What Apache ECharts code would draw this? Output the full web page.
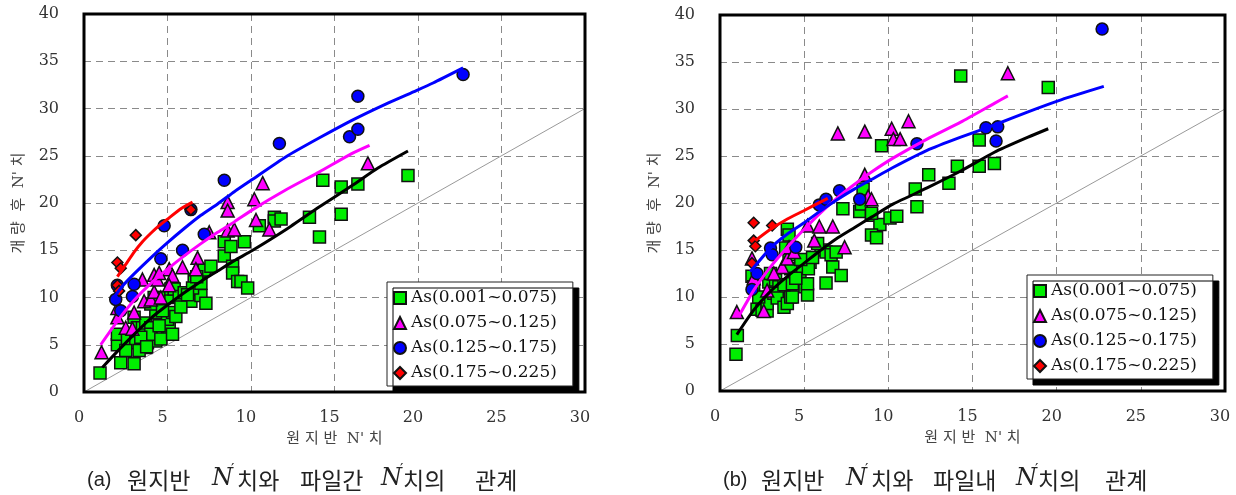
<!DOCTYPE html>
<html><head><meta charset="utf-8">
<script src="https://cdn.jsdelivr.net/npm/echarts@6/dist/echarts.min.js"></script>
<style>html,body{margin:0;padding:0;background:#fff}#c{width:1236px;height:495px}</style>
</head><body><div id="c"></div>
<script>
// ---------- categories / labels ----------
const seriesNames = ['As(0.001~0.075)', 'As(0.075~0.125)', 'As(0.125~0.175)', 'As(0.175~0.225)'];
const xName = '원 지 반  N\' 치';
const yName = '개 량  후  N\' 치';

// ---------- panel (a) data: [원지반 N', 개량 후 N'] ----------
const aSq = [[0.96,2.0],[2.2,3.1],[3.0,3.0],[2.0,5.0],[2.0,6.1],[2.6,5.5],[3.1,5.2],[3.7,4.7],[3.8,5.2],[4.3,5.4],
  [3.0,7.9],[3.2,6.8],[3.5,6.8],[3.7,7.3],[4.0,6.8],[4.0,6.1],[4.3,8.4],[4.0,9.3],[4.2,10.0],[4.8,10.0],
  [5.0,6.1],[5.1,6.6],[5.1,7.3],[5.0,7.7],[5.3,8.4],[5.2,10.0],[5.2,10.9],[5.4,10.9],[5.7,10.1],[6.4,9.6],
  [7.0,10.2],[7.3,9.4],[6.6,11.9],[6.9,12.4],[7.2,12.9],[7.6,13.3],[8.4,14.4],[8.4,15.9],[8.8,15.4],[9.6,15.9],
  [8.9,13.3],[8.9,12.6],[9.2,11.7],[9.4,11.7],[9.8,11.0],[10.5,17.6],[11.4,18.5],[11.4,18.1],[11.8,18.3],[13.5,18.5],
  [14.1,16.4],[15.4,18.8],[14.3,22.4],[15.4,21.7],[16.4,22.0],[19.4,22.9],[5.5,8.0],[4.5,7.0],[3.4,5.8],[6.0,10.5],
  [6.5,11.0],[5.8,9.0],[4.6,5.6],[5.3,6.1],[2.5,4.4],[3.3,4.4],[4.7,8.6],[6.2,10.3],[7.0,11.5],[3.75,4.8],[6.75,12.2]];
const aTri = [[1.05,4.2],[2.5,6.8],[2.9,6.7],[2.0,7.9],[2.0,8.9],[3.5,11.9],[3.6,9.6],[4.0,9.8],[4.2,10.6],[4.6,10.0],
  [4.2,12.4],[4.4,11.9],[5.1,13.0],[5.3,12.3],[5.1,11.3],[5.9,13.2],[6.8,14.2],[6.7,13.0],[7.5,16.9],[8.6,17.1],
  [9.0,17.2],[8.6,20.1],[8.6,19.2],[10.2,20.4],[10.3,18.2],[10.7,22.1],[11.1,17.2],[17.0,24.2],[3.0,8.4],[4.5,12.6]];
const aCir = [[1.9,9.8],[2.2,8.6],[2.9,10.1],[3.0,11.4],[4.6,14.1],[4.8,17.6],[5.9,15.0],[7.2,16.7],[6.4,19.3],[8.4,22.4],
  [11.7,26.3],[15.9,27.0],[16.4,27.8],[16.4,31.3],[22.7,33.6],[2.0,11.3]];
const aDia = [[2.0,13.7],[2.2,13.1],[2.0,11.3],[2.1,10.7],[3.1,16.6],[6.4,19.3]];
const aLineRed = [[2.0,12.2],[2.5,13.5],[3.0,14.8],[3.5,15.9],[4.0,16.8],[4.5,17.6],[5.0,18.3],[5.8,19.4],[6.5,20.1]];
const aLineBlue = [[1.7,9.8],[2.3,11.2],[3.0,12.5],[4.0,14.2],[5.0,15.8],[6.0,17.3],[7.0,18.7],[8.0,19.9],[9.0,21.2],
  [10.0,22.4],[12.1,24.9],[14.1,26.9],[16.1,28.8],[18.1,30.5],[19.9,31.9],[20.9,32.7],[22.7,34.3]];
const aLineMag = [[1.0,5.0],[2.0,7.5],[3.0,9.7],[4.0,11.5],[5.0,13.0],[6.0,14.4],[7.0,15.7],[8.0,16.9],[9.0,18.0],
  [10.1,19.3],[12.1,21.4],[14.1,23.3],[16.0,25.2],[17.1,26.1]];
const aLineBlk = [[1.1,2.6],[2.0,4.3],[3.0,6.1],[4.0,7.8],[5.0,9.2],[6.0,10.5],[7.0,11.7],[8.0,12.8],[9.0,13.9],
  [10.1,15.0],[12.1,17.2],[14.1,19.6],[16.1,21.9],[17.6,23.7],[19.4,25.5]];

// ---------- panel (b) data ----------
const bSq = [[0.95,3.9],[1.03,5.9],[2.2,8.7],[2.5,8.6],[2.8,8.5],[2.8,9.3],[1.9,12.2],[2.0,11.1],[2.9,11.6],[3.3,11.8],
  [3.5,11.1],[3.2,10.4],[3.4,9.9],[3.8,8.9],[4.0,9.3],[4.2,10.0],[4.3,10.0],[3.8,11.3],[4.3,11.4],[4.75,12.7],
  [5.05,11.1],[5.2,10.2],[5.2,11.4],[5.35,13.7],[5.25,13.0],[4.2,13.0],[4.1,14.5],[3.9,15.2],[4.0,17.2],[4.1,16.6],
  [6.0,15.0],[6.3,14.8],[6.6,14.5],[6.9,14.8],[6.7,13.2],[7.2,12.3],[6.3,11.5],[7.3,19.4],[8.3,19.1],[8.4,19.9],
  [8.5,21.5],[9.0,18.7],[9.5,17.7],[9.0,16.6],[9.3,16.3],[10.1,18.4],[10.5,18.6],[9.6,26.1],[11.7,19.6],[11.6,21.5],
  [12.4,23.0],[13.6,22.1],[14.1,23.9],[15.4,23.9],[16.3,24.2],[15.4,26.7],[14.3,33.5],[19.5,32.3],[9.0,18.9],[5.8,15.7],
  [4.8,14.0],[3.0,12.5],[2.3,10.0],[5.5,14.2],[4.5,12.0]];
const bTri = [[1.0,8.4],[1.9,14.1],[2.6,8.5],[2.8,10.7],[3.7,13.2],[4.0,14.1],[4.1,15.3],[5.2,17.6],[5.9,17.5],[5.6,16.0],
  [6.7,17.5],[7.4,15.3],[8.6,23.0],[8.8,20.7],[9.0,20.4],[7.0,27.4],[8.6,27.6],[10.2,27.9],[10.3,26.8],[10.7,26.8],
  [11.2,28.7],[17.1,33.8],[2.0,12.0],[3.2,12.5],[4.4,14.8]];
const bCir = [[1.9,10.8],[2.2,12.5],[3.0,15.2],[3.1,14.5],[4.5,15.3],[5.9,19.8],[6.3,20.4],[7.1,21.3],[8.3,20.4],[11.7,26.3],
  [15.8,28.0],[16.5,28.1],[16.4,26.6],[22.7,38.5]];
const bDia = [[2.0,17.9],[3.1,17.6],[2.0,16.0],[2.1,15.4],[1.9,13.6]];
const bLineRed = [[2.1,16.0],[3.0,17.2],[4.0,18.3],[5.0,19.2],[6.4,20.5]];
const bLineBlue = [[1.8,12.7],[3.0,15.2],[4.0,16.7],[5.0,17.9],[6.0,19.2],[7.0,20.4],[8.0,21.5],[9.0,22.5],[10.3,23.8],
  [12.3,25.6],[14.3,27.0],[16.3,28.3],[18.3,29.7],[20.3,31.0],[22.8,32.4]];
const bLineMag = [[1.1,7.9],[2.0,10.7],[3.0,13.2],[4.0,15.3],[5.0,17.2],[6.0,19.0],[7.0,20.6],[8.0,22.0],[9.0,23.3],
  [10.3,24.8],[12.3,26.8],[14.3,28.6],[16.3,30.6],[17.1,31.4]];
const bLineBlk = [[1.0,6.0],[2.0,8.6],[3.0,10.6],[4.0,12.2],[5.0,13.6],[6.0,15.0],[7.0,16.3],[8.0,17.4],[9.0,18.5],
  [10.3,19.9],[12.3,21.6],[14.3,23.4],[16.3,25.4],[18.3,27.0],[19.5,27.9]];

const diag = [[0,0],[30,30]];

// ---------- styles ----------
const colors = ['#00ee00', '#ff00ff', '#0000ff', '#ff0000'];
const symbols = ['rect', 'triangle', 'circle', 'diamond'];
const sizes = [12, 13, 12, 11];
const lineColors = ['#000000', '#ff00ff', '#0000ff', '#ff0000'];
const serif = 'DejaVu Serif';
const kr = 'Noto Sans CJK KR';

function xAx(gi) {
  return {type:'value', gridIndex:gi, min:0, max:30, interval:5,
    axisLine:{show:false}, axisTick:{show:false},
    splitLine:{show:true, lineStyle:{color:'#8a8a8a', width:1, type:[7,5]}},
    axisLabel:{fontFamily:serif, fontSize:16, color:'#333', margin:18, padding:[0,10,0,0]},
    name:xName, nameLocation:'middle', nameGap:40,
    nameTextStyle:{fontFamily:serif + ',"' + kr + '"', fontSize:15, color:'#444'}};
}
function yAx(gi) {
  return {type:'value', gridIndex:gi, min:0, max:40, interval:5,
    axisLine:{show:false}, axisTick:{show:false},
    splitLine:{show:true, lineStyle:{color:'#8a8a8a', width:1, type:[7,5]}},
    axisLabel:{fontFamily:serif, fontSize:16, color:'#333', margin:25},
    name:yName, nameLocation:'middle', nameGap:57, nameRotate:90,
    nameTextStyle:{fontFamily:serif + ',"' + kr + '"', fontSize:15, color:'#444'}};
}
function scat(name, data, k, gi) {
  return {type:'scatter', name:name, xAxisIndex:gi, yAxisIndex:gi, data:data,
    symbol:symbols[k], symbolSize:sizes[k], z:3,
    itemStyle:{color:colors[k], borderColor:'#111', borderWidth:1.5, opacity:1}};
}
function ln(data, k, gi) {
  return {type:'line', xAxisIndex:gi, yAxisIndex:gi, data:data, showSymbol:false, symbol:'none',
    smooth:0.2, z:4, lineStyle:{color:lineColors[k], width:3}, silent:true};
}
function diagLine(gi) {
  return {type:'line', xAxisIndex:gi, yAxisIndex:gi, data:diag, showSymbol:false, symbol:'none', z:1,
    lineStyle:{color:'#999', width:1}, silent:true};
}
function legendAt(left, top) {
  return {left:left, top:top, orient:'vertical', backgroundColor:'#fff', borderColor:'#222', borderWidth:1,
    padding:[7,16,4,6], itemWidth:12, itemHeight:12, itemGap:7, selectedMode:false, z:20,
    shadowColor:'#000', shadowOffsetX:6, shadowOffsetY:6, shadowBlur:0,
    textStyle:{fontFamily:serif, fontSize:17, color:'#111', lineHeight:18},
    data:seriesNames.map((n,i)=>({name:n, icon:symbols[i]}))};
}
function capText(x, t, kind) {
  let st;
  if (kind === 'N') st = {fontSize:24, fontFamily:serif, fontStyle:'italic', y:479};
  else if (kind === 'P') st = {fontSize:15, fontFamily:serif, y:470};
  else if (kind === 'A') st = {fontSize:20, fontFamily:'Liberation Sans', y:480};
  else st = {fontSize:23, fontFamily:kr, y:480};
  return {type:'text', z:50, style:Object.assign({text:t, x:x, fill:'#222', textAlign:'left', textVerticalAlign:'middle'}, st)};
}
const capA = [[87,'(a)','A'],[127,'원지반'],[212,'N','N'],[231,'′','P'],[237,'치와'],
  [300,'파일간'],[381,'N','N'],[400,'′','P'],[403,'치의'],[475,'관계']];
const capB = [[723,'(b)','A'],[761,'원지반'],[846,'N','N'],[865,'′','P'],[871,'치와'],
  [933,'파일내'],[1016,'N','N'],[1035,'′','P'],[1038,'치의'],[1105,'관계']];
const frames = [[84,14,501,378],[720,15,505,376]];

const chart = echarts.init(document.getElementById('c'), null, {renderer:'canvas'});
const series = [diagLine(0), diagLine(1)];
[[aSq,aTri,aCir,aDia],[bSq,bTri,bCir,bDia]].forEach((set, gi) => {
  set.forEach((d, k) => series.push(scat(seriesNames[k], d, k, gi)));
});
[[aLineBlk,aLineMag,aLineBlue,aLineRed],[bLineBlk,bLineMag,bLineBlue,bLineRed]].forEach((set, gi) => {
  set.forEach((d, k) => series.push(ln(d, k, gi)));
});
const graphics = capA.map(p => capText(p[0], p[1], p[2])).concat(capB.map(p => capText(p[0], p[1], p[2])));
frames.forEach(f => graphics.push({type:'rect', z:10, shape:{x:f[0], y:f[1], width:f[2], height:f[3]},
  style:{fill:null, stroke:'#000', lineWidth:3}}));
chart.setOption({
  animation:false,
  backgroundColor:'#fff',
  grid:frames.map(f => ({left:f[0], top:f[1], width:f[2], height:f[3], show:false})),
  xAxis:[xAx(0), xAx(1)],
  yAxis:[yAx(0), yAx(1)],
  legend:[legendAt(387, 282), legendAt(1027, 275)],
  series:series,
  graphic:graphics
});
</script>
</body></html>
